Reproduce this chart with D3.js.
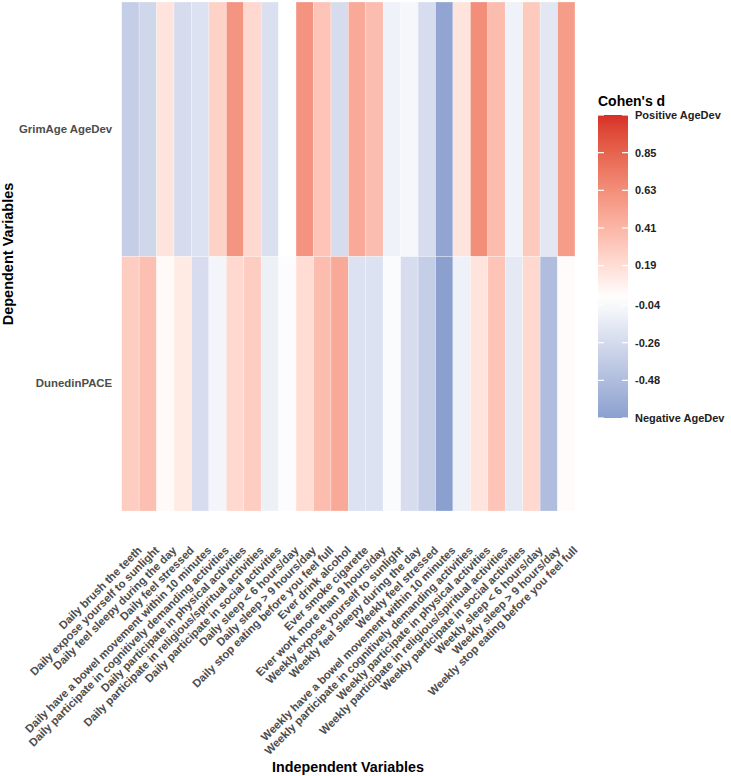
<!DOCTYPE html>
<html>
<head>
<meta charset="utf-8">
<script src="https://cdn.jsdelivr.net/npm/d3@7"></script>
<style>
  body { margin: 0; background: #fff; }
  text { font-family: "Liberation Sans", Arial, Helvetica, sans-serif; }
</style>
</head>
<body>
<svg id="chart" width="731" height="776"></svg>
<script>
const independentVars = [
  "Daily brush the teeth",
  "Daily expose yourself to sunlight",
  "Daily feel sleepy during the day",
  "Daily feel stressed",
  "Daily have a bowel movement within 10 minutes",
  "Daily participate in cognitively demanding activities",
  "Daily participate in physical activities",
  "Daily participate in religious/spiritual activities",
  "Daily participate in social activities",
  "Daily sleep < 6 hours/day",
  "Daily sleep > 9 hours/day",
  "Daily stop eating before you feel full",
  "Ever drink alcohol",
  "Ever smoke cigarette",
  "Ever work more than 9 hours/day",
  "Weekly expose yourself to sunlight",
  "Weekly feel sleepy during the day",
  "Weekly feel stressed",
  "Weekly have a bowel movement within 10 minutes",
  "Weekly participate in cognitively demanding activities",
  "Weekly participate in physical activities",
  "Weekly participate in religious/spiritual activities",
  "Weekly participate in social activities",
  "Weekly sleep < 6 hours/day",
  "Weekly sleep > 9 hours/day",
  "Weekly stop eating before you feel full"
];
const dependentVars = ["GrimAge AgeDev", "DunedinPACE"];
const grimAgeD = [-0.35, -0.29, 0.15, -0.25, -0.21, 0.25, 0.59, 0.22, -0.22, 0.00, 0.60, 0.33, -0.25,
                  0.48, 0.37, -0.09, -0.06, -0.24, -0.66, 0.15, 0.63, 0.37, -0.09, 0.30, -0.17, 0.55];
const dunedinD = [0.28, 0.36, 0.03, 0.12, -0.24, -0.07, 0.22, 0.28, -0.11, -0.02, 0.19, 0.37, 0.48,
                  -0.21, -0.21, -0.03, -0.24, -0.35, -0.70, -0.10, 0.15, 0.33, -0.16, 0.22, -0.48, 0.02];
const legendBreaks = [-0.70, -0.48, -0.26, -0.04, 0.19, 0.41, 0.63, 0.85, 1.07];
const legendLabels = ["Negative AgeDev", "-0.48", "-0.26", "-0.04", "0.19", "0.41", "0.63", "0.85", "Positive AgeDev"];

const seriesValues = [grimAgeD, dunedinD];
const cells = [];
dependentVars.forEach((dv, i) => {
  independentVars.forEach((iv, j) => cells.push({ dv, iv, d: seriesValues[i][j] }));
});

const svg = d3.select("#chart");
const pLeft = 121.7, pRight = 575, pTop = 2, pBottom = 511;

const x = d3.scaleBand().domain(independentVars).range([pLeft, pRight]).padding(0);
const y = d3.scaleBand().domain(dependentVars).range([pTop, pBottom]).padding(0);
const color = d3.scaleLinear()
  .domain([-0.70, 0, 1.07])
  .range(["#8ba0cf", "#ffffff", "#d73027"])
  .interpolate(d3.interpolateLab)
  .clamp(true);

svg.append("g").selectAll("rect").data(cells).join("rect")
  .attr("x", d => x(d.iv))
  .attr("y", d => y(d.dv))
  .attr("width", x.bandwidth())
  .attr("height", y.bandwidth())
  .attr("fill", d => color(d.d))
  .attr("stroke", "#ffffff")
  .attr("stroke-opacity", 0.45)
  .attr("stroke-width", 0.6);

// Y axis
const yAxis = svg.append("g")
  .attr("transform", `translate(${pLeft},0)`)
  .call(d3.axisLeft(y).tickSize(0).tickPadding(9.5));
yAxis.select(".domain").remove();
yAxis.selectAll("text")
  .attr("font-size", 11.4).attr("font-weight", "bold").attr("fill", "#4d4d4d")
  .style("font-family", '"Liberation Sans", Arial, sans-serif');

// X axis
const xAxis = svg.append("g")
  .attr("transform", `translate(0,${pBottom})`)
  .call(d3.axisBottom(x).tickSize(0).tickPadding(0));
xAxis.select(".domain").remove();
xAxis.selectAll("text")
  .attr("font-size", 11.3).attr("font-weight", "bold").attr("fill", "#4d4d4d")
  .style("font-family", '"Liberation Sans", Arial, sans-serif')
  .attr("text-anchor", "end")
  .attr("y", 0).attr("dy", "0.75em")
  .attr("transform", "translate(6,34) rotate(-45)");

// Axis titles
svg.append("text")
  .attr("x", 348).attr("y", 772)
  .attr("text-anchor", "middle")
  .attr("font-size", 14.3).attr("font-weight", "bold").attr("fill", "#000")
  .text("Independent Variables");
svg.append("text")
  .attr("transform", "translate(13,254) rotate(-90)")
  .attr("text-anchor", "middle")
  .attr("font-size", 14.5).attr("font-weight", "bold").attr("fill", "#000")
  .text("Dependent Variables");

// Legend
const lx = 598, lw = 30;
const ly = d3.scaleLinear().domain([-0.70, 1.07]).range([418, 115]);
const defs = svg.append("defs");
const grad = defs.append("linearGradient").attr("id", "cgrad")
  .attr("x1", 0).attr("y1", 1).attr("x2", 0).attr("y2", 0);
d3.range(0, 1.0001, 0.05).forEach(t => {
  const v = -0.70 + t * 1.77;
  grad.append("stop").attr("offset", t).attr("stop-color", color(v));
});
svg.append("rect")
  .attr("x", lx).attr("y", ly(1.07)).attr("width", lw).attr("height", ly(-0.70) - ly(1.07))
  .attr("fill", "url(#cgrad)");
const lg = svg.append("g");
legendBreaks.forEach((b, i) => {
  const yy = ly(b);
  lg.append("line").attr("x1", lx).attr("x2", lx + 6).attr("y1", yy).attr("y2", yy)
    .attr("stroke", "#fff").attr("stroke-width", 1.2);
  lg.append("line").attr("x1", lx + lw - 6).attr("x2", lx + lw).attr("y1", yy).attr("y2", yy)
    .attr("stroke", "#fff").attr("stroke-width", 1.2);
  lg.append("text").attr("x", 635).attr("y", yy).attr("dy", "0.35em")
    .attr("font-size", 11).attr("font-weight", "bold").attr("fill", "#222")
    .text(legendLabels[i]);
});
svg.append("text")
  .attr("x", 598).attr("y", 106)
  .attr("font-size", 14).attr("font-weight", "bold").attr("fill", "#000")
  .text("Cohen's d");
</script>
</body>
</html>
